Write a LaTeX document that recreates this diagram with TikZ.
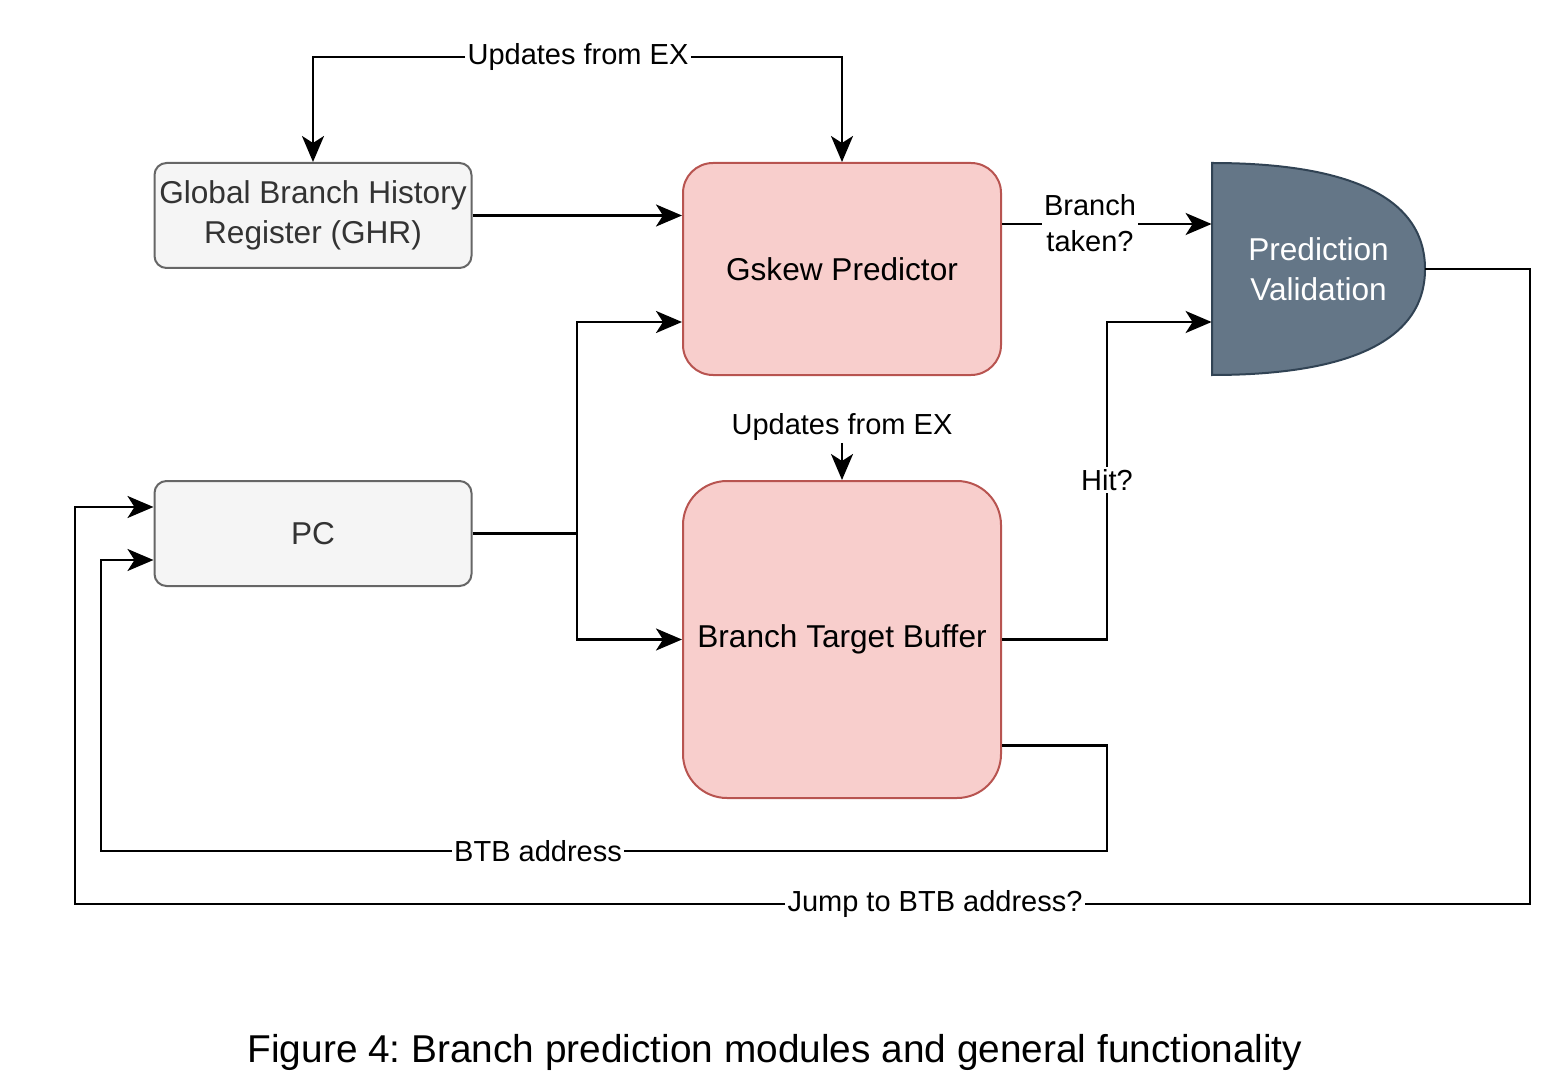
\documentclass[tikz,border=0pt]{standalone}
\usepackage{fontspec}
\setmainfont{Liberation Sans}
\usetikzlibrary{arrows.meta,calc}
\definecolor{boxgray}{HTML}{F5F5F5}
\definecolor{linegray}{HTML}{666666}
\definecolor{redfill}{HTML}{F8CECC}
\definecolor{redline}{HTML}{B85450}
\definecolor{slatefill}{HTML}{647687}
\definecolor{slateline}{HTML}{314354}
\frenchspacing

\begin{document}
\begin{tikzpicture}%
  [x=0.5pt,y=-0.5pt,
   wire/.style={line width=1.25pt},
   arrow wire/.style={wire,-{Stealth[length=13pt,width=11pt,inset=3.5pt]}}]
  \tikzstyle{gray node}=[rectangle,rounded corners=6pt,draw=linegray,fill=boxgray,line width=1pt,
    minimum width=158.5pt,minimum height=52.5pt,inner sep=0,text=black!80,align=center,
    font=\fontsize{15.8}{20}\selectfont]
  \tikzstyle{red node}=[rectangle,rounded corners=15pt,draw=redline,fill=redfill,line width=1pt,
    minimum width=159pt,inner sep=0,align=center,font=\fontsize{15.8}{20}\selectfont]
  \tikzstyle{edge label}=[fill=white,inner sep=1pt,align=center,font=\fontsize{14.5}{18}\selectfont]
  \useasboundingbox (0,0) rectangle (1556,1080);
  % modules
  \node(ghr)[gray node] at (313,215.5) {Global Branch History\\Register (GHR)};
  \node(pc)[gray node] at (313,533.5) {PC};
  \node(gskew)[red node,minimum height=106pt] at (842,269) {Gskew Predictor};
  \node(btb)[red node,minimum height=158.5pt,rounded corners=22pt] at (842,639.5) {Branch Target Buffer};
  \filldraw[fill=slatefill,draw=slateline,line width=1pt]
    (1212,163) .. controls (1342,163) and (1425,194) .. (1425,269)
    .. controls (1425,344) and (1342,375) .. (1212,375) -- cycle;
  \node(val)[minimum width=106.5pt,minimum height=106pt,inner sep=0,text=white,align=center,
    font=\fontsize{15.8}{20}\selectfont] at (1318.5,269) {Prediction\\Validation};
  % labels
  \node(upd top)[edge label] at (578,57) {Updates from EX};
  \node(upd btb)[edge label] at (842,427) {Updates from EX};
  \node(taken)[edge label] at (1090,223) {Branch\\taken?};
  \node(hit)[edge label] at (1107,480) {Hit?};
  \node(btb addr)[edge label] at (538,851) {BTB address};
  \node(jump)[edge label] at (935,904) {Jump to BTB address?};
  \coordinate(split) at (577,533.5);
  \coordinate(addr right) at (1107,851);
  \coordinate(addr left) at (101,851);
  \coordinate(jump right) at (1530,904);
  \coordinate(jump left) at (75,904);
  % connectors
  \draw[arrow wire] (upd top.west) -| (ghr.north);
  \draw[arrow wire] (upd top.east) -| (gskew.north);
  \draw[arrow wire] (ghr.east) -- (ghr.east -| gskew.west);
  \draw[wire] (pc.east) -- (split);
  \draw[arrow wire] (split) |- ($(gskew.west)+(0,53)$);
  \draw[arrow wire] (split) |- (btb.west);
  \draw[arrow wire] (upd btb.south) -- (btb.north);
  \draw[wire] ($(gskew.east)+(0,-45)$) -- (taken.west |- 0,224);
  \draw[arrow wire] (taken.east |- 0,224) -- ($(val.west)+(0,-45)$);
  \draw[wire] (btb.east) -| (hit.south);
  \draw[arrow wire] (hit.north) |- ($(val.west)+(0,53)$);
  \draw[wire] ($(btb.east)+(0,106)$) -| (addr right) -- (btb addr.east);
  \draw[arrow wire] (btb addr.west) -- (addr left) |- ($(pc.west)+(0,26.5)$);
  \draw[wire] (val.east) -| (jump right) -- (jump.east);
  \draw[arrow wire] (jump.west) -- (jump left) |- ($(pc.west)+(0,-26.5)$);
  % caption
  \node(caption)[font=\fontsize{19.4}{23}\selectfont] at (775,1052)
    {Figure 4: Branch prediction modules and general functionality};
\end{tikzpicture}
\end{document}
